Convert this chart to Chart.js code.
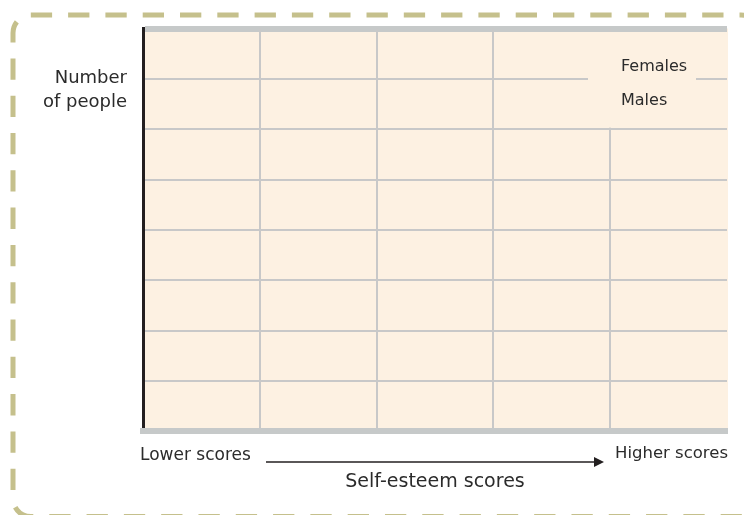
<!DOCTYPE html>
<html>
<head>
<meta charset="utf-8">
<script src="https://cdn.jsdelivr.net/npm/chart.js@4/dist/chart.umd.min.js"></script>
<style>
  html, body { margin: 0; padding: 0; background: #fff; }
  #wrap { position: relative; width: 744px; height: 515px; overflow: hidden; font-family: "DejaVu Sans", sans-serif; color: #2b2b2b; }
  #frame, #grafico { position: absolute; left: 0; top: 0; }
  .lbl { position: absolute; white-space: nowrap; }
</style>
</head>
<body>
<div id="wrap">
  <svg id="frame" width="744" height="515">
    <path d="M13,498.5 L13,33 A18,18 0 0 1 31,15 L741,15 A18,18 0 0 1 759,33 L759,498.5 A18,18 0 0 1 741,516.5 L31,516.5 A18,18 0 0 1 13,498.5 Z"
          fill="none" stroke="#C5C08C" stroke-width="5" stroke-dasharray="21.3 16" stroke-dashoffset="28.8"/>
  </svg>
  <canvas id="grafico" width="744" height="515"></canvas>
  <div class="lbl" style="right:617px; top:65px; font-size:18px; line-height:24px; text-align:right;">Number<br>of people</div>
  <div class="lbl" style="left:140px; top:442px; font-size:17px; line-height:24px;">Lower scores</div>
  <div class="lbl" style="left:615px; top:441px; font-size:16.5px; line-height:24px;">Higher scores</div>
  <svg class="lbl" style="left:260px; top:452px;" width="350" height="20">
    <line x1="6" y1="10" x2="336" y2="10" stroke="#231F20" stroke-width="1.6"/>
    <polygon points="334,5 344,10 334,15" fill="#231F20"/>
  </svg>
</div>
<script>
// datos del grafico
const scoreBins = ['1', '2', '3', '4', '5', '6'];
const femaleCounts = [0, 0, 0, 0, 0, 0];
const maleCounts = [0, 0, 0, 0, 0, 0];
const yMax = 8;

const plotBg = '#FDF1E2';
const gridGrey = '#C8C8C8';
const bandGrey = '#C6C9C9';

// fondo del area del grafico
const fondo = {
    id: 'fondo',
    beforeDraw(chart) {
        const { ctx, chartArea } = chart;
        ctx.save();
        ctx.fillStyle = plotBg;
        ctx.fillRect(chartArea.left, chartArea.top, chartArea.right - chartArea.left + 1, chartArea.bottom - chartArea.top);
        ctx.restore();
    }
};

// leyenda dentro del grafico (tapa la rejilla)
const leyenda = {
    id: 'leyenda',
    afterDraw(chart) {
        const { ctx, chartArea, scales } = chart;
        const left = chartArea.right - 139;
        const top = chartArea.top + 3.5;
        const bottom = scales.y.getPixelForValue(6) - 1.5;
        ctx.save();
        ctx.fillStyle = plotBg;
        ctx.fillRect(left, top, 108, bottom - top);
        ctx.fillStyle = '#2b2b2b';
        ctx.font = '16px "DejaVu Sans"';
        ctx.textBaseline = 'middle';
        chart.data.datasets.forEach((ds, i) => {
            ctx.fillText(ds.label, left + 33, chartArea.top + 38.5 + i * 34);
        });
        ctx.restore();
    }
};

const ctx = document.getElementById('grafico').getContext('2d');
const miGrafico = new Chart(ctx, {
    type: 'line',
    data: {
        labels: scoreBins,
        datasets: [{
            label: 'Females',
            data: femaleCounts,
            borderColor: '#F0886A',
            borderWidth: 2,
            pointRadius: 0,
            tension: 0.4,
            clip: { left: 0, top: 0, right: 0, bottom: -1 }
        }, {
            label: 'Males',
            data: maleCounts,
            borderColor: '#9FA6D8',
            borderWidth: 2,
            pointRadius: 0,
            tension: 0.4,
            clip: { left: 0, top: 0, right: 0, bottom: -1 }
        }]
    },
    options: {
        responsive: false,
        animation: false,
        layout: { padding: { left: 143, top: 28.5, right: 17, bottom: 22 } },
        plugins: { legend: { display: false }, tooltip: { enabled: false } },
        scales: {
            x: {
                type: 'category',
                offset: false,
                ticks: { display: false },
                grid: {
                    z: 1,
                    color: c => (c.index === 0 || c.index === scoreBins.length - 1) ? 'rgba(0,0,0,0)' : gridGrey,
                    lineWidth: 2,
                    drawTicks: false
                },
                border: { color: bandGrey, width: 6, z: 1 },
                title: {
                    display: true,
                    text: 'Self-esteem scores',
                    color: '#2b2b2b',
                    font: { family: 'DejaVu Sans', size: 19 },
                    padding: { top: 39, bottom: 0 }
                }
            },
            y: {
                min: 0,
                max: yMax,
                ticks: { display: false, stepSize: 1 },
                grid: {
                    color: c => c.tick.value === yMax ? bandGrey : (c.tick.value === 0 ? 'rgba(0,0,0,0)' : gridGrey),
                    lineWidth: c => c.tick.value === yMax ? 6 : 2,
                    drawTicks: false
                },
                border: { color: '#231F20', width: 3, z: -1 }
            }
        }
    },
    plugins: [fondo, leyenda]
});
</script>
</body>
</html>
